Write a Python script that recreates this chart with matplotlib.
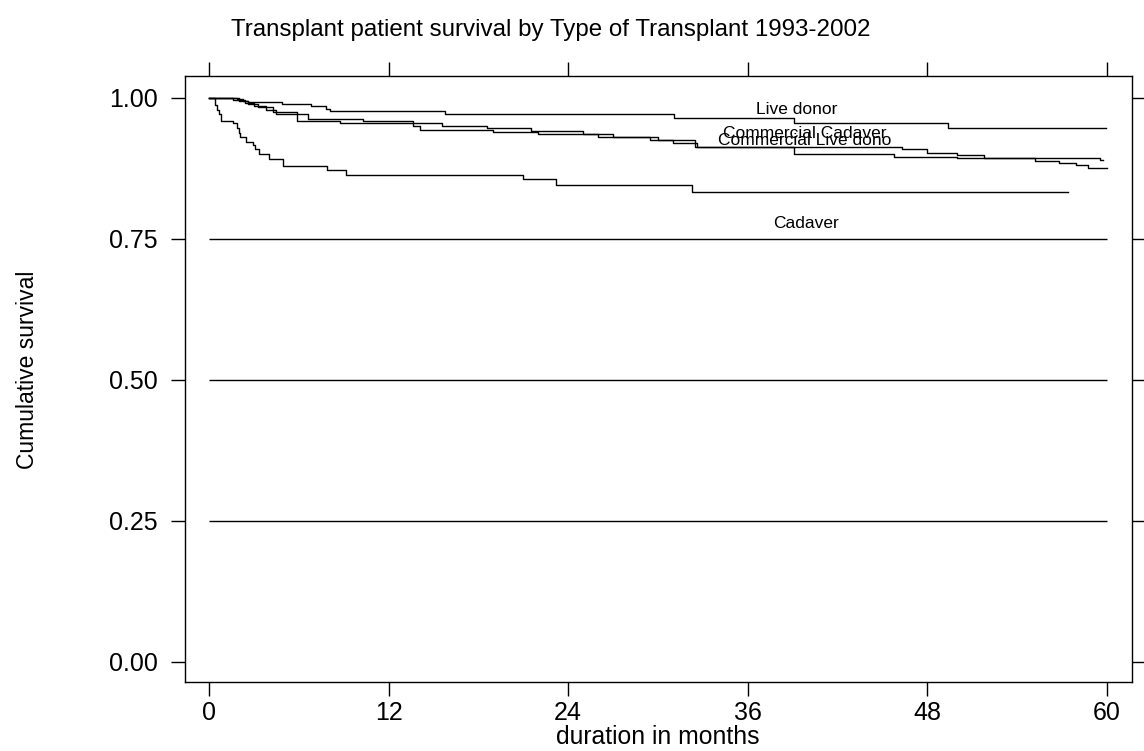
import matplotlib.pyplot as plt

plt.rcParams['font.family'] = ['Liberation Sans', 'DejaVu Sans']

# Kaplan-Meier step curves (month at which each value starts, survival)
live_m = [0, 1.9, 2.3, 2.6, 4.9, 6.8, 7.8, 8.1, 15.8, 31.1, 39.1, 49.4, 59.9]
live_v = [1.0, 0.997, 0.995, 0.992, 0.989, 0.985, 0.9805, 0.976, 0.972, 0.9635, 0.955, 0.947, 0.947]

ccad_m = [0, 1.6, 2.4, 3.0, 3.8, 4.5, 6.6, 10.3, 13.6, 15.6, 18.6, 21.5, 25.0, 27.0,
          30.0, 32.5, 46.3, 48.0, 50.0, 51.8, 59.5, 59.7]
ccad_v = [1.0, 0.996, 0.990, 0.985, 0.979, 0.972, 0.963, 0.959, 0.955, 0.950, 0.947, 0.941,
          0.936, 0.931, 0.925, 0.913, 0.9085, 0.9025, 0.898, 0.8926, 0.890, 0.890]

clive_m = [0, 2.0, 2.6, 3.3, 4.3, 5.9, 8.75, 13.6, 14.1, 19.0, 22.0, 26.0, 29.5, 31.0,
           32.6, 39.1, 45.8, 50.0, 55.2, 56.8, 57.9, 58.7, 60.0]
clive_v = [1.0, 0.995, 0.989, 0.983, 0.975, 0.959, 0.955, 0.949, 0.943, 0.940, 0.936, 0.931,
           0.925, 0.920, 0.913, 0.900, 0.8954, 0.8926, 0.888, 0.884, 0.880, 0.875, 0.875]

cad_m = [0, 0.29, 0.40, 0.55, 0.67, 0.8, 1.58, 1.85, 2.0, 2.07, 2.5, 2.96, 3.07, 3.34,
         4.03, 4.94, 7.86, 9.15, 21.0, 23.2, 32.3, 57.4]
cad_v = [1.0, 0.999, 0.987, 0.979, 0.972, 0.959, 0.955, 0.946, 0.937, 0.930, 0.921, 0.916,
         0.909, 0.901, 0.891, 0.879, 0.872, 0.863, 0.855, 0.845, 0.833, 0.833]

curve_labels = ['Live donor', 'Commercial Cadaver', 'Commercial Live dono', 'Cadaver']
label_x = [39.3, 39.8, 39.8, 39.9]
label_y = [0.9706, 0.928, 0.916, 0.769]

grid_y = [0.25, 0.5, 0.75]
x_ticks = [0, 12, 24, 36, 48, 60]
y_ticks = [0.0, 0.25, 0.5, 0.75, 1.0]

fig = plt.figure(figsize=(11.44, 7.51), dpi=100)
ax = fig.add_axes([185 / 1144, 1 - 682 / 751, (1132 - 185) / 1144, (682 - 76) / 751])

for m, v in [(live_m, live_v), (ccad_m, ccad_v), (clive_m, clive_v), (cad_m, cad_v)]:
    ax.step(m, v, where='post', color='black', lw=1.0)

ax.hlines(grid_y, 0, 60, color='black', lw=1.0)

for txt, x, y in zip(curve_labels, label_x, label_y):
    ax.text(x, y, txt, ha='center', va='baseline', fontsize=12.5)

ax.set_xlim(-1.6, 61.67)
ax.set_ylim(-0.036, 1.0385)
ax.set_xticks(x_ticks)
ax.set_yticks(y_ticks)
ax.set_yticklabels([f'{t:.2f}' for t in y_ticks])
ax.tick_params(direction='out', length=10, width=1, labelsize=18, pad=9.4,
               top=True, right=True, labeltop=False, labelright=False)
ax.tick_params(axis='x', pad=4)
for s in ax.spines.values():
    s.set_linewidth(1)

fig.text(551 / 1144, 1 - 30 / 751, 'Transplant patient survival by Type of Transplant 1993-2002',
         ha='center', va='center', fontsize=17.4)
fig.text(658 / 1144, 1 - 737 / 751, 'duration in months', ha='center', va='center', fontsize=17.8)
fig.text(28 / 1144, 1 - 370 / 751, 'Cumulative survival', ha='center', va='center',
         rotation=90, fontsize=16.5)

fig.savefig('out.png', dpi=100)
